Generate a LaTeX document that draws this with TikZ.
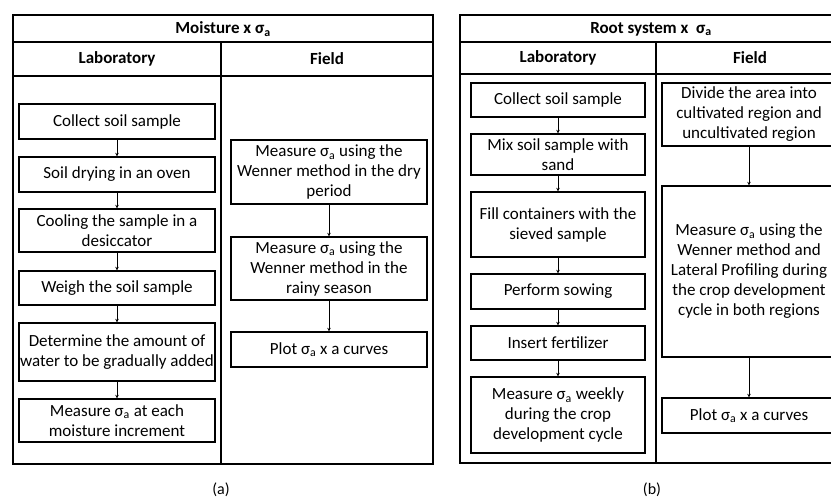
\documentclass[tikz,border=0pt]{standalone}
\usepackage{fontspec}
\setmainfont{Carlito}
\usetikzlibrary{arrows.meta}
\newcommand{\bodyfont}{\fontsize{17}{20}\selectfont}
\newcommand{\sa}{σ\textsubscript{a}}
\tikzset{
  frame/.style={draw, line width=1.3pt},
  stepbox/.style={draw, line width=1.3pt, inner sep=0pt, align=center, font=\bodyfont},
  head/.style={inner sep=0pt, font=\bodyfont\bfseries},
  arr/.style={line width=0.9pt, -{Stealth[length=3.5pt,width=3.5pt]}},
  lbl/.style={inner sep=0pt, font=\fontsize{16}{18}\selectfont}
}
\begin{document}
\begin{tikzpicture}[x=1pt,y=-1pt]
\useasboundingbox (0,0) rectangle (831,500);
\clip (0,0) rectangle (831,500);
% ---------- panel (a)
\draw[frame] (13,15) rectangle (433,464);
\draw[frame] (13,42) -- (433,42);
\draw[frame] (13,76) -- (433,76);
\draw[frame] (221,42) -- (221,464);
\node[head] (ta) at (223,29) {Moisture x \sa};
\node[head] (la) at (117,59) {Laboratory};
\node[head] (fa) at (327,59) {Field};
\node[stepbox, minimum width=196, minimum height=35] (a1) at (117,121.5) {Collect soil sample};
\node[stepbox, minimum width=196, minimum height=35] (a2) at (117,174.5) {Soil drying in an oven};
\node[stepbox, minimum width=196, minimum height=43] (a3) at (117,230.5) {Cooling the sample in a\\desiccator};
\node[stepbox, minimum width=196, minimum height=34] (a4) at (117,288) {Weigh the soil sample};
\node[stepbox, minimum width=196, minimum height=58] (a5) at (117,352) {Determine the amount of\\water to be gradually added};
\node[stepbox, minimum width=196, minimum height=43] (a6) at (117,420.5) {Measure \sa{} at each\\moisture increment};
\node[stepbox, minimum width=196, minimum height=64] (f1) at (329,172) {Measure \sa{} using the\\Wenner method in the dry\\period};
\node[stepbox, minimum width=196, minimum height=63] (f2) at (329,268.5) {Measure \sa{} using the\\Wenner method in the\\rainy season};
\node[stepbox, minimum width=196, minimum height=35] (f3) at (329,349.5) {Plot \sa{} x a curves};
\draw[arr] (a1) -- (a2);
\draw[arr] (a2) -- (a3);
\draw[arr] (a3) -- (a4);
\draw[arr] (a4) -- (a5);
\draw[arr] (a5) -- (a6);
\draw[arr] (f1) -- (f2);
\draw[arr] (f2) -- (f3);
\node[lbl] (capa) at (221,490) {(a)};
% ---------- panel (b)
\draw[frame] (460,15) rectangle (842,463);
\draw[frame] (460,42) -- (842,42);
\draw[frame] (460,74) -- (842,74);
\draw[frame] (656,42) -- (656,463);
\node[head] (tb) at (651,29) {Root system x\ \ \sa};
\node[head] (lb) at (558,58) {Laboratory};
\node[head] (fb) at (750,58) {Field};
\node[stepbox, minimum width=174, minimum height=34] (b1) at (558,100) {Collect soil sample};
\node[stepbox, minimum width=174, minimum height=41] (b2) at (558,154.5) {Mix soil sample with\\sand};
\node[stepbox, minimum width=174, minimum height=65] (b3) at (558,224.5) {Fill containers with the\\sieved sample};
\node[stepbox, minimum width=174, minimum height=35] (b4) at (558,291.5) {Perform sowing};
\node[stepbox, minimum width=174, minimum height=34] (b5) at (558,343) {Insert fertilizer};
\node[stepbox, minimum width=174, minimum height=76] (b6) at (558,415) {Measure \sa{} weekly\\during the crop\\development cycle};
\node[stepbox, minimum width=174, minimum height=63] (g1) at (749,114.5) {Divide the area into\\cultivated region and\\uncultivated region};
\node[stepbox, minimum width=174, minimum height=171] (g2) at (749,271.5) {Measure \sa{} using the\\Wenner method and\\Lateral Profiling during\\the crop development\\cycle in both regions};
\node[stepbox, minimum width=174, minimum height=35] (g3) at (749,415.5) {Plot \sa{} x a curves};
\draw[arr] (b1) -- (b2);
\draw[arr] (b2) -- (b3);
\draw[arr] (b3) -- (b4);
\draw[arr] (b4) -- (b5);
\draw[arr] (b5) -- (b6);
\draw[arr] (g1) -- (g2);
\draw[arr] (g2) -- (g3);
\node[lbl] (capb) at (652,490) {(b)};
\end{tikzpicture}
\end{document}
